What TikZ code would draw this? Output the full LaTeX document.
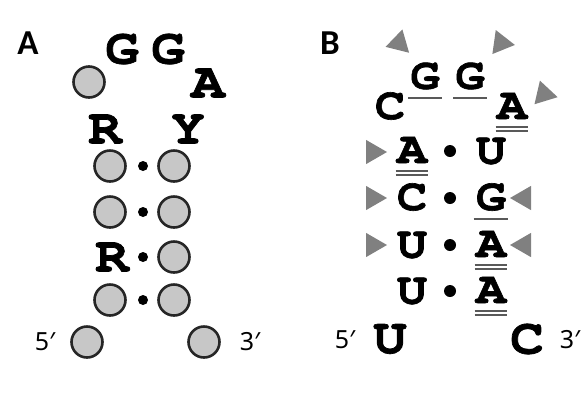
\documentclass[tikz,border=0pt]{standalone}
\usepackage{fontspec}
\usetikzlibrary{shapes.geometric}
\newfontfamily\lblfont{Carlito}
\newfontfamily\primefont{Noto Sans}
\newfontfamily\courierbf{texgyrecursor-bold.otf}[FakeBold=1.4,FakeStretch=1.12]

\begin{document}
\begin{tikzpicture}[x=1pt,y=-1pt,
	base/.style={circle,draw=black!85,fill=black!22,line width=2.6pt,minimum size=31pt,inner sep=0pt},
	pair/.style={circle,fill=black,minimum size=10pt,inner sep=0pt},
	pairB/.style={pair,minimum size=12pt},
	ntA/.style={font=\courierbf\fontsize{50}{50}\selectfont,inner sep=0pt},
	ntB/.style={font=\courierbf\fontsize{45}{45}\selectfont,inner sep=0pt},
	ntS/.style={font=\courierbf\fontsize{44}{44}\selectfont,inner sep=0pt},
	tag/.style={font=\lblfont\bfseries\fontsize{35}{35}\selectfont,inner sep=0pt},
	prime/.style={font=\primefont\fontsize{25}{25}\selectfont,inner sep=0pt},
	tri/.style={regular polygon,regular polygon sides=3,fill=black!50,inner sep=0pt,minimum size=28pt},
	uline/.style={draw=black!65,line width=1.7pt},
	ul/.style={append after command={\pgfextra{\let\ntnode\tikzlastnode}
		([xshift=-2pt,yshift=-9pt]\ntnode.base west) edge[uline] ([xshift=2pt,yshift=-9pt]\ntnode.base east)}},
	dul/.style={append after command={\pgfextra{\let\ntnode\tikzlastnode}
		([xshift=-1pt,yshift=-8pt]\ntnode.base west) edge[uline] ([xshift=1pt,yshift=-8pt]\ntnode.base east)
		([xshift=-1pt,yshift=-12pt]\ntnode.base west) edge[uline] ([xshift=1pt,yshift=-12pt]\ntnode.base east)}}]

\useasboundingbox (0,0) rectangle (585,400);

% panel A
\node[tag]   (tagA) at (28,43)  {A};
\node[ntA]   (lg1)  at (122,49) {G};
	\node[ntA]   (lg2)  at (168,49) {G};
\node[base]  (lb0)  at (89,82)  {};
	\node[ntA]   (la)   at (208,83) {A};
\node[ntA]   (lr)   at (105,129) {R};
	\node[ntA]   (ly)   at (188,129) {Y};

\node[base]  (l1) at (110,166) {};
	\node[pair] (p1) at (143,166) {};
	\node[base] (r1) at (174,166) {};
\node[base]  (l2) at (110,212) {};
	\node[pair] (p2) at (143,212) {};
	\node[base] (r2) at (174,212) {};
\node[ntA]   (l3) at (112,257) {R};
	\node[pair] (p3) at (143,257) {};
	\node[base] (r3) at (174,257) {};
\node[base]  (l4) at (110,300) {};
	\node[pair] (p4) at (143,300) {};
	\node[base] (r4) at (174,300) {};

\node[base]  (l5) at (87,342)  {};
	\node[base]  (r5) at (204,342) {};
\node[prime] (five)  at (45,342)  {5′};
	\node[prime] (three) at (250,342) {3′};

% panel B
\node[tag]   (tagB) at (330,43) {B};
\node[tri,rotate=106]  (t1) at (399,43) {};
	\node[tri,rotate=-98]  (t2) at (501,43) {};
	\node[tri,rotate=-103] (t3) at (544,94) {};

\node[ntB]       (c0) at (390,106) {C};
\node[ntS,ul]    (g1) at (425,76)  {G};
	\node[ntS,ul]    (g2) at (470,76)  {G};
\node[ntB,dul]   (a0) at (512,106) {A};

\node[tri,rotate=-90] (t4) at (373,152) {};
\node[ntB,dul]   (n1) at (412,150) {A};
	\node[pairB] (q1) at (450,151) {};
	\node[ntB]       (m1) at (491,151) {U};
\node[tri,rotate=-90] (t5) at (373,198) {};
\node[ntB]       (n2) at (412,197) {C};
	\node[pairB] (q2) at (450,198) {};
	\node[ntB,ul]    (m2) at (491,197) {G};
\node[tri,rotate=90]  (t6) at (524,198) {};
\node[tri,rotate=-90] (t7) at (373,245) {};
\node[ntB]       (n3) at (412,245) {U};
	\node[pairB] (q3) at (450,245) {};
	\node[ntB,dul]   (m3) at (491,244) {A};
\node[tri,rotate=90]  (t8) at (524,245) {};
\node[ntB]       (n4) at (412,291) {U};
	\node[pairB] (q4) at (450,291) {};
	\node[ntB,dul]   (m4) at (491,290) {A};

\node[prime] (fiveB)  at (345,340) {5′};
\node[ntA]   (u5) at (390,339) {U};
	\node[ntA]   (c3) at (527,339) {C};
\node[prime] (threeB) at (570,340) {3′};

\end{tikzpicture}
\end{document}
